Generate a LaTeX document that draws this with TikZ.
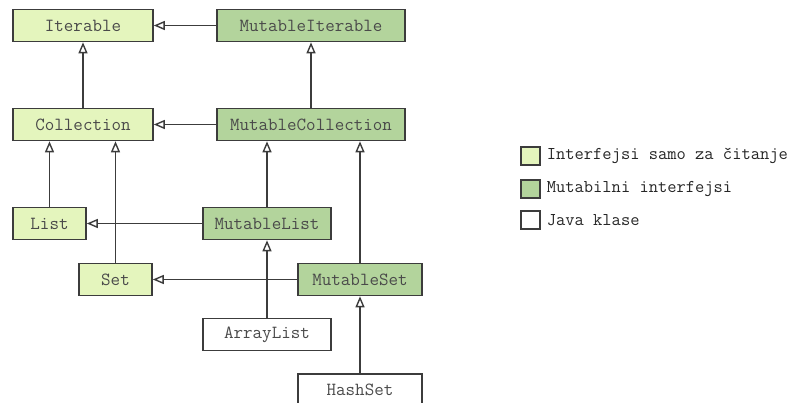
\documentclass[tikz,border=0pt]{standalone}
\usepackage{fontspec}
\usetikzlibrary{arrows.meta,positioning}

\definecolor{readgreen}{HTML}{E4F5BD}
\definecolor{mutgreen}{HTML}{B3D49C}
\definecolor{edgegray}{HTML}{3C3C3C}
\definecolor{textgray}{HTML}{4A4A4A}

\tikzset{
  box/.style={draw=edgegray, line width=1.6pt, inner sep=0pt, minimum height=32pt,
    text=textgray, font=\ttfamily\fontsize{18.5}{20}\selectfont},
  readbox/.style={box, fill=readgreen},
  mutbox/.style={box, fill=mutgreen},
  javabox/.style={box, fill=white},
  inherit/.style={draw=edgegray, line width=1.6pt,
    -{Triangle[open, length=11pt, width=9pt, line width=1.4pt, fill=white]}},
  legendsq/.style={draw=edgegray, line width=1.3pt, minimum width=19pt, minimum height=18pt, inner sep=0pt},
  legendtxt/.style={inner sep=0pt, text=black!85, font=\ttfamily\fontsize{18}{20}\selectfont}
}

\begin{document}
\begin{tikzpicture}[x=1pt, y=-1pt]
  \useasboundingbox (0,0) rectangle (795,403);
  % interfaces
  \node[readbox, minimum width=140pt] (iter) at (83,25.5) {Iterable};
  \node[mutbox, minimum width=188pt] (mutiter) at (311,25.5) {MutableIterable};
  \node[readbox, minimum width=140pt] (coll) at (83,124.5) {Collection};
  \node[mutbox, minimum width=188pt] (mutcoll) at (311,124.5) {MutableCollection};
  \node[readbox, minimum width=73pt] (list) at (49.5,223.5) {List};
  \node[mutbox, minimum width=128pt] (mutlist) at (267,223.5) {MutableList};
  \node[readbox, minimum width=73pt] (set) at (115.5,279.5) {Set};
  \node[mutbox, minimum width=124pt] (mutset) at (360,279.5) {MutableSet};
  % classes
  \node[javabox, minimum width=128pt] (arraylist) at (267,334.5) {ArrayList};
  \node[javabox, minimum width=124pt] (hashset) at (360,390) {HashSet};

  % inheritance
  \draw[inherit] (mutiter) -- (iter);
  \draw[inherit] (coll) -- (iter);
  \draw[inherit] (mutcoll) -- (mutiter);
  \draw[inherit] (mutcoll) -- (coll);
  \draw[inherit] (list.north) -- (list.north |- coll.south);
  \draw[inherit] (set.north) -- (set.north |- coll.south);
  \draw[inherit] (mutlist.north) -- (mutlist.north |- mutcoll.south);
  \draw[inherit] (mutset.north) -- (mutset.north |- mutcoll.south);
  \draw[inherit] (mutlist) -- (list);
  \draw[inherit] (mutset) -- (set);
  \draw[inherit] (arraylist) -- (mutlist);
  \draw[inherit] (hashset) -- (mutset);

  % legend
  \node[legendsq, fill=readgreen] (legread) at (530.5,156) {};
  \node[legendtxt, right=6pt of legread] (legreadtxt) {Interfejsi samo za čitanje};
  \node[legendsq, fill=mutgreen] (legmut) at (530.5,189) {};
  \node[legendtxt, right=6pt of legmut] (legmuttxt) {Mutabilni interfejsi};
  \node[legendsq, fill=white] (legjava) at (530.5,220) {};
  \node[legendtxt, right=6pt of legjava] (legjavatxt) {Java klase};
\end{tikzpicture}
\end{document}
